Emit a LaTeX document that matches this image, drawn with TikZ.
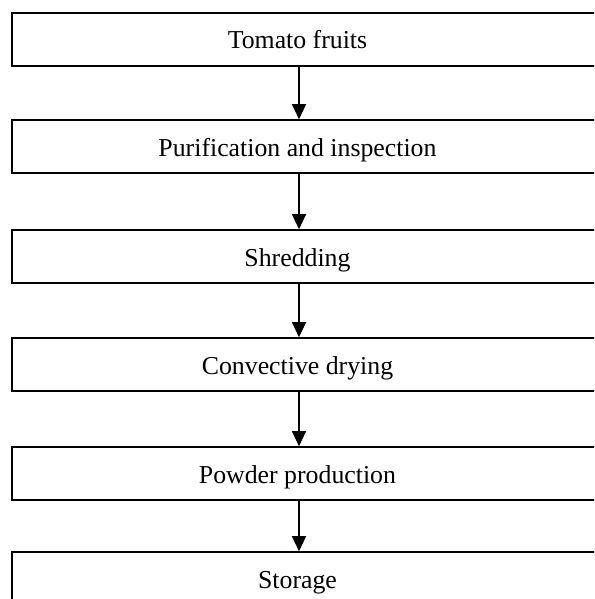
\documentclass[tikz,border=0pt]{standalone}
\usepackage{fontspec}
\setmainfont{Liberation Serif}
\usetikzlibrary{arrows.meta}
\tikzset{
  box/.style={draw=black, line width=1.6pt, minimum width=600pt, minimum height=53pt, inner sep=0pt, outer sep=0pt, anchor=north west},
  lab/.style={font=\fontsize{25.8}{30}\selectfont, anchor=base, inner sep=0pt},
  flow/.style={line width=1.3pt, -{Triangle[length=15pt,width=14pt]}, shorten >=0.8pt}
}
\begin{document}
\begin{tikzpicture}[x=1pt,y=1pt]
\useasboundingbox (0,0) rectangle (594,-599);
\fill[white] (0,0) rectangle (594,-599);
\clip (0,0) rectangle (594,-599);
\node[box] (b1) at (12,-13) {};
\node[box] (b2) at (12,-120) {};
\node[box] (b3) at (12,-230) {};
\node[box] (b4) at (12,-338) {};
\node[box] (b5) at (12,-447) {};
\node[box] (b6) at (12,-552) {};
\node[lab] (t1) at (297.5,-49) {Tomato fruits};
\node[lab] (t2) at (297.5,-156) {Purification and inspection};
\node[lab] (t3) at (297.5,-266) {Shredding};
\node[lab] (t4) at (297.5,-374) {Convective drying};
\node[lab] (t5) at (297.5,-483) {Powder production};
\node[lab] (t6) at (297.5,-588) {Storage};
\coordinate (ax) at (299,0);
\draw[flow] (b1.south -| ax) -- (b2.north -| ax);
\draw[flow] (b2.south -| ax) -- (b3.north -| ax);
\draw[flow] (b3.south -| ax) -- (b4.north -| ax);
\draw[flow] (b4.south -| ax) -- (b5.north -| ax);
\draw[flow] (b5.south -| ax) -- (b6.north -| ax);
\end{tikzpicture}
\end{document}
